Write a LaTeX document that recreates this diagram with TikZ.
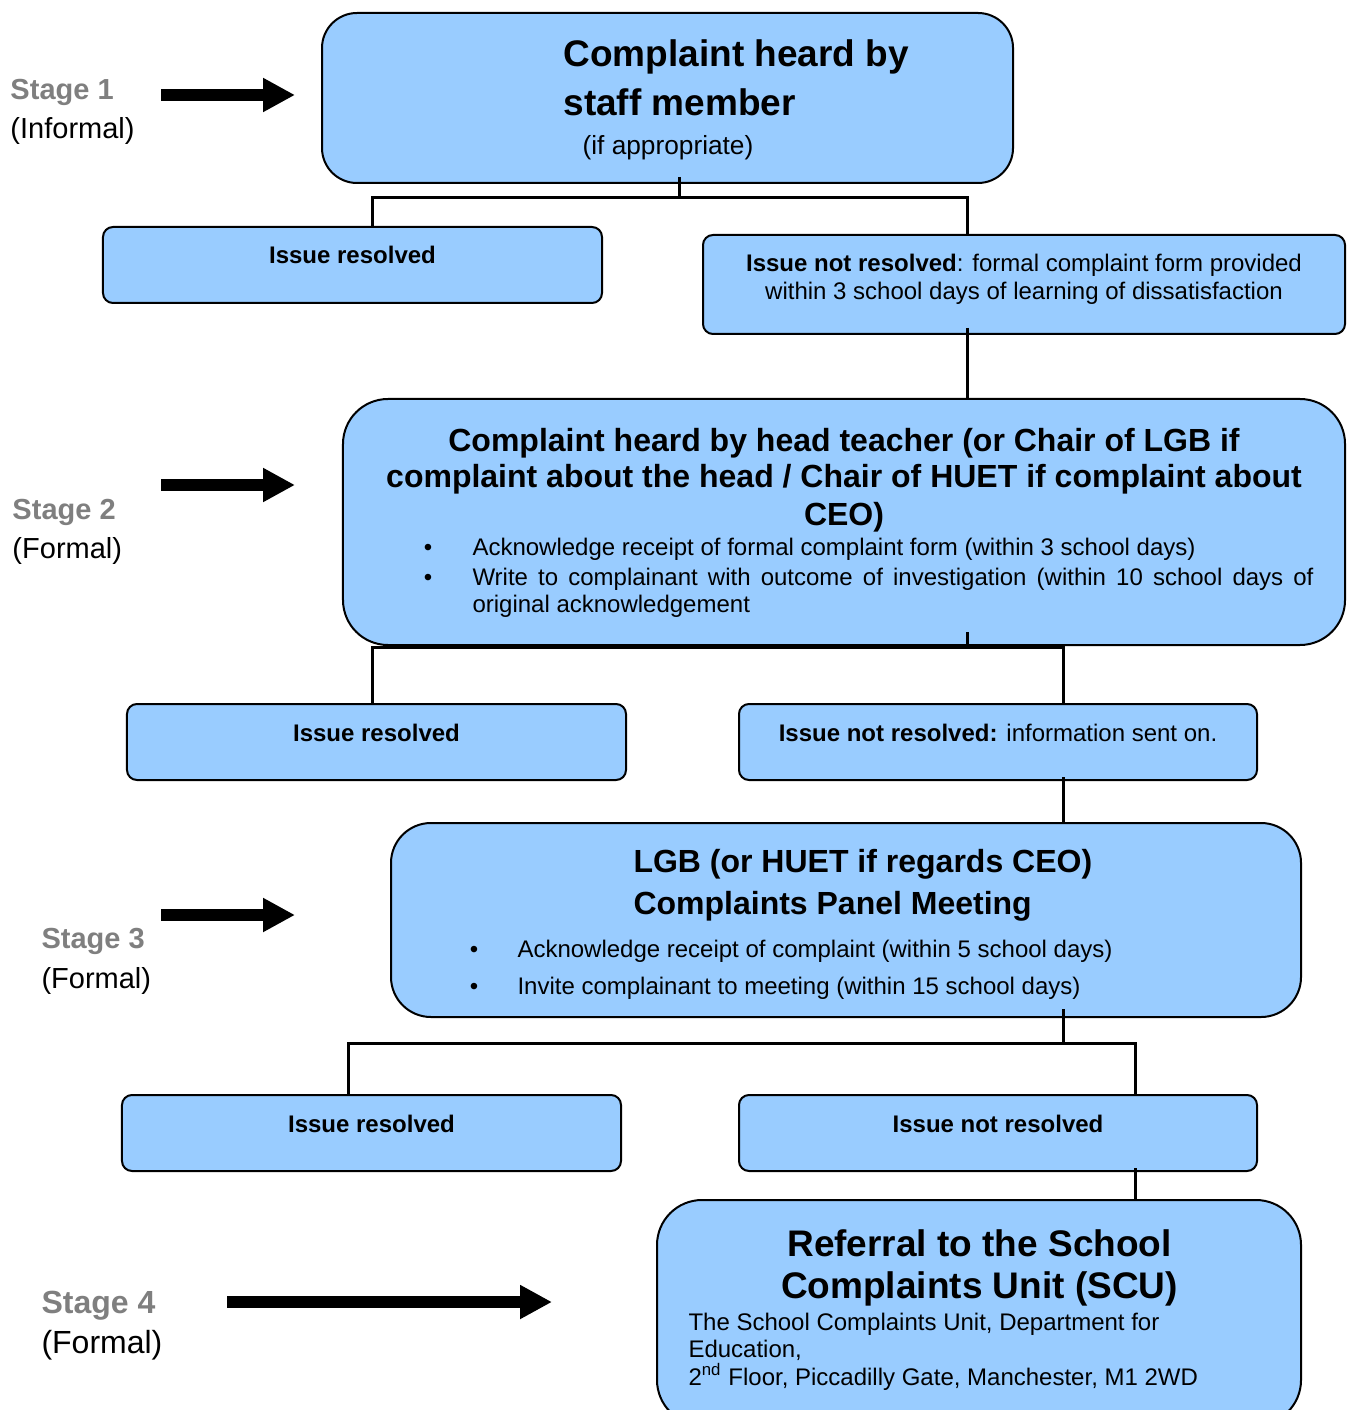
\documentclass[tikz,border=0pt]{standalone}
\usepackage{fontspec}
\setmainfont{Liberation Sans}
\usetikzlibrary{arrows.meta,calc}
\definecolor{boxblue}{HTML}{99CCFF}
\definecolor{stagegray}{HTML}{7F7F7F}
\newcommand{\titlebig}{\fontsize{14.8}{19.6}\selectfont\bfseries}
\newcommand{\titlescu}{\fontsize{14.8}{16.8}\selectfont\bfseries}
\newcommand{\titlemid}{\fontsize{12.8}{14.8}\selectfont\bfseries}
\newcommand{\titlepanel}{\fontsize{12.8}{16.8}\selectfont\bfseries}
\newcommand{\bodytext}{\fontsize{9.6}{11.2}\selectfont}
\newcommand{\addrtext}{\fontsize{9.6}{11}\selectfont}
\newcommand{\stagelabel}{\fontsize{11.6}{14}\selectfont}
\newcommand{\stagelabelbig}{\fontsize{12.8}{14}\selectfont}
\tikzset{
  stagebox/.style={draw, line width=0.8pt, fill=boxblue, inner sep=0pt},
  issuebox/.style={draw, line width=0.8pt, fill=boxblue, rounded corners=4pt, inner sep=0pt},
  link/.style={line width=1.2pt},
  stagearrow/.style={line width=4.8pt, -{Triangle[length=12.8pt,width=12.8pt]}},
  txt/.style={inner sep=0pt, anchor=base, font=\bodytext},
}

\begin{document}
\begin{tikzpicture}[x=0.4pt, y=-0.4pt]
\useasboundingbox (0,0) rectangle (1346,1410);

%caixas das etapas
\node[stagebox, rounded corners=14pt, minimum width=276.4pt, minimum height=68pt] (b1) at (667.5,98) {};
\node[stagebox, rounded corners=18pt, minimum width=400.8pt, minimum height=98.4pt] (b2) at (844,522) {};
\node[stagebox, rounded corners=16pt, minimum width=364pt, minimum height=77.6pt] (b3) at (846,920) {};
\node[stagebox, rounded corners=18pt, minimum width=257.6pt, minimum height=90pt] (b4) at (979,1312.5) {};

%caixas dos resultados
\node[issuebox, minimum width=199.6pt, minimum height=30.4pt] (r1) at (352.5,265) {};
\node[issuebox, minimum width=256.8pt, minimum height=39.6pt] (n1) at (1024,284.5) {};
\node[issuebox, minimum width=199.6pt, minimum height=30.4pt] (r2) at (376.5,742) {};
\node[issuebox, minimum width=207.2pt, minimum height=30.4pt] (n2) at (998,742) {};
\node[issuebox, minimum width=199.6pt, minimum height=30.4pt] (r3) at (371.5,1133) {};
\node[issuebox, minimum width=207.2pt, minimum height=30.4pt] (n3) at (998,1133) {};

%ligacoes
\coordinate (j1) at (679,198);
\coordinate (j1l) at (372,198);
\coordinate (j1r) at (967,198);
\draw[link] ($(j1 |- b1.south)+(0,-7)$) -- (j1);
\draw[link] (j1l |- r1.north) -- (j1l) -- (j1r) -- (j1r |- n1.north);
\draw[link] ($(j1r |- n1.south)+(0,-7)$) -- (j1r |- b2.north);

\coordinate (j2) at (967,647);
\coordinate (j2l) at (372,647);
\coordinate (j2r) at (1063,647);
\draw[link] ($(j2 |- b2.south)+(0,-14)$) -- (j2);
\draw[link] (j2l |- r2.north) -- (j2l) -- (j2r) -- (j2r |- n2.north);
\draw[link] ($(j2r |- n2.south)+(0,-4)$) -- (j2r |- b3.north);

\coordinate (j3) at (1063,1043);
\coordinate (j3l) at (348,1043);
\coordinate (j3r) at (1135,1043);
\draw[link] ($(j3 |- b3.south)+(0,-9)$) -- (j3);
\draw[link] (j3l |- r3.north) -- (j3l) -- (j3r) -- (j3r |- n3.north);
\draw[link] ($(j3r |- n3.south)+(0,-4)$) -- (j3r |- b4.north);

%etapa 1
\node[txt, anchor=base west, align=left, font=\titlebig] (b1title) at (563,116) {Complaint heard by\\staff member};
\node[txt, font=\fontsize{10.5}{12}\selectfont] (b1sub) at (668,155) {(if appropriate)};
\node[txt, font=\bodytext\bfseries] (r1txt) at (352.5,264) {Issue resolved};
\node[txt, align=center] (n1txt) at (1024,300) {\textbf{Issue not resolved}: formal complaint form provided\\within 3 school days of learning of dissatisfaction};

%etapa 2
\node[txt, align=center, font=\titlemid] (b2title) at (844,525) {Complaint heard by head teacher (or Chair of LGB if\\complaint about the head / Chair of HUET if complaint about\\CEO)};
\node[txt] (b2dot1) at (428,555) {\textbullet};
\node[txt, anchor=base west] (b2item1) at (472,555) {Acknowledge receipt of formal complaint form (within 3 school days)};
\node[txt] (b2dot2) at (428,585) {\textbullet};
\node[txt, anchor=base west, text width=336.4pt, align=justify, font=\fontsize{9.6}{10.8}\selectfont] (b2item2) at (472,585) {Write to complainant with outcome of investigation (within 10 school days of\linebreak original acknowledgement};
\node[txt, font=\bodytext\bfseries] (r2txt) at (376.5,741) {Issue resolved};
\node[txt] (n2txt) at (998,741) {\textbf{Issue not resolved:} information sent on.};

%etapa 3
\node[txt, anchor=base west, align=left, font=\titlepanel] (b3title) at (633,914) {LGB (or HUET if regards CEO)\\Complaints Panel Meeting};
\node[txt] (b3dot1) at (474,957) {\textbullet};
\node[txt, anchor=base west] (b3item1) at (517,957) {Acknowledge receipt of complaint (within 5 school days)};
\node[txt] (b3dot2) at (474,994) {\textbullet};
\node[txt, anchor=base west] (b3item2) at (517,994) {Invite complainant to meeting (within 15 school days)};
\node[txt, font=\bodytext\bfseries] (r3txt) at (371.5,1132) {Issue resolved};
\node[txt, font=\bodytext\bfseries] (n3txt) at (998,1132) {Issue not resolved};

%etapa 4
\node[txt, align=center, font=\titlescu] (b4title) at (979.5,1298) {Referral to the School\\Complaints Unit (SCU)};
\node[txt, anchor=base west, align=left, font=\addrtext] (b4addr) at (688,1385) {The School Complaints Unit, Department for\\Education,\\2\textsuperscript{nd} Floor, Piccadilly Gate, Manchester, M1 2WD};

%rotulos das etapas
\node[txt, anchor=base west, font=\stagelabel\bfseries, text=stagegray] (st1) at (10,100) {Stage 1};
\node[txt, anchor=base west, font=\stagelabel] (st1b) at (10,139) {(Informal)};
\node[txt, anchor=base west, font=\stagelabel\bfseries, text=stagegray] (st2) at (12,519) {Stage 2};
\node[txt, anchor=base west, font=\stagelabel] (st2b) at (12,558) {(Formal)};
\node[txt, anchor=base west, font=\stagelabel\bfseries, text=stagegray] (st3) at (41,948) {Stage 3};
\node[txt, anchor=base west, font=\stagelabel] (st3b) at (41,988) {(Formal)};
\node[txt, anchor=base west, font=\stagelabelbig\bfseries, text=stagegray] (st4) at (41,1313) {Stage 4};
\node[txt, anchor=base west, font=\stagelabelbig] (st4b) at (41,1353) {(Formal)};

%setas
\coordinate (a1s) at (161,95);
\coordinate (a1e) at (295,95);
\coordinate (a2s) at (161,485);
\coordinate (a2e) at (295,485);
\coordinate (a3s) at (161,915);
\coordinate (a3e) at (295,915);
\coordinate (a4s) at (227,1302);
\coordinate (a4e) at (552,1302);
\draw[stagearrow] (a1s) -- (a1e);
\draw[stagearrow] (a2s) -- (a2e);
\draw[stagearrow] (a3s) -- (a3e);
\draw[stagearrow] (a4s) -- (a4e);

\end{tikzpicture}
\end{document}
